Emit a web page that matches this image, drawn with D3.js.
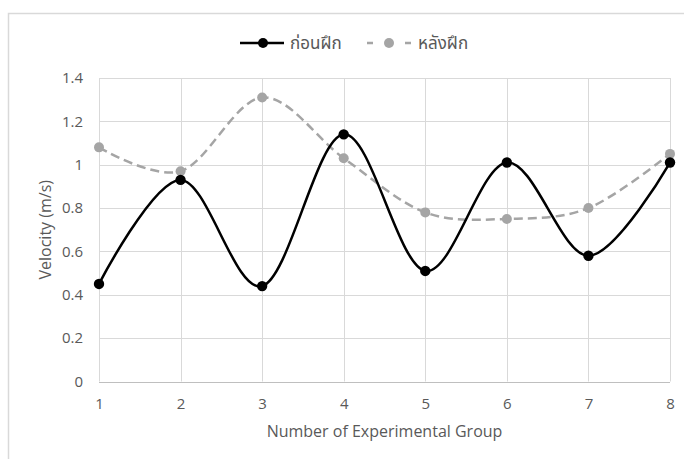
<!DOCTYPE html>
<html><head><meta charset="utf-8">
<script src="https://cdn.jsdelivr.net/npm/d3@7"></script>
<style>body{margin:0;background:#fff}svg{display:block}</style>
</head><body>
<svg id="c" width="684" height="459"></svg>
<script>
const groups = [1,2,3,4,5,6,7,8];
const before = [0.45,0.93,0.44,1.14,0.51,1.01,0.58,1.01];
const after  = [1.08,0.97,1.31,1.03,0.78,0.75,0.80,1.05];
const yTicks = [0,0.2,0.4,0.6,0.8,1,1.2,1.4];
const seriesNames = ["ก่อนฝึก","หลังฝึก"];

const svg = d3.select("#c");
const font = "'Open Sans','Noto Sans','Noto Sans Thai',sans-serif";
const txt = "#595959";

svg.append("rect").attr("x",8.5).attr("y",13.5).attr("width",700).attr("height",470)
  .attr("fill","#fff").attr("stroke","#d9d9d9").attr("stroke-width",1.5);

const x = d3.scaleLinear().domain([1,8]).range([99,670]);
const y = d3.scaleLinear().domain([0,1.4]).range([381.5,78]);

const g = svg.append("g");
g.selectAll(".hg").data(yTicks.filter(d=>d>0)).join("line")
  .attr("x1",x(1)).attr("x2",x(8)).attr("y1",d=>Math.round(y(d))+0.5).attr("y2",d=>Math.round(y(d))+0.5)
  .attr("stroke","#d9d9d9").attr("stroke-width",1);
g.selectAll(".vg").data(groups).join("line")
  .attr("x1",d=>Math.round(x(d))+0.5).attr("x2",d=>Math.round(x(d))+0.5).attr("y1",y(1.4)).attr("y2",y(0))
  .attr("stroke","#d9d9d9").attr("stroke-width",1);
g.append("line").attr("x1",x(1)).attr("x2",x(8)).attr("y1",Math.round(y(0))+0.5).attr("y2",Math.round(y(0))+0.5)
  .attr("stroke","#bfbfbf").attr("stroke-width",1.2);

const yAxis = svg.append("g").attr("transform",`translate(${x(1)},0)`)
  .call(d3.axisLeft(y).tickValues(yTicks).tickSize(0).tickPadding(16).tickFormat(d=>String(d)));
yAxis.select(".domain").remove();
yAxis.selectAll("text").attr("fill",txt).style("font-family",font).style("font-size","15px");

const xAxis = svg.append("g").attr("transform",`translate(0,${y(0)})`)
  .call(d3.axisBottom(x).tickValues(groups).tickSize(0).tickPadding(17).tickFormat(d3.format("d")));
xAxis.select(".domain").remove();
xAxis.selectAll("text").attr("fill",txt).style("font-family",font).style("font-size","15px");

svg.append("text").attr("x",(x(1)+x(8))/2).attr("y",437).attr("text-anchor","middle")
  .attr("fill",txt).style("font-family",font).style("font-size","16px").text("Number of Experimental Group");
svg.append("text").attr("transform",`translate(51,${(y(0)+y(1.4))/2}) rotate(-90)`).attr("text-anchor","middle")
  .attr("fill",txt).style("font-family",font).style("font-size","16px").text("Velocity (m/s)");

const line = d3.line().x((d,i)=>x(groups[i])).y(d=>y(d)).curve(d3.curveCatmullRom.alpha(0));

svg.append("path").datum(after).attr("d",line).attr("fill","none")
  .attr("stroke","#a5a5a5").attr("stroke-width",2.5).attr("stroke-dasharray","9,5");
svg.selectAll(".pa").data(after).join("circle").attr("cx",(d,i)=>x(groups[i])).attr("cy",d=>y(d))
  .attr("r",5).attr("fill","#a5a5a5");
svg.append("path").datum(before).attr("d",line).attr("fill","none")
  .attr("stroke","#000").attr("stroke-width",2.5);
svg.selectAll(".pb").data(before).join("circle").attr("cx",(d,i)=>x(groups[i])).attr("cy",d=>y(d))
  .attr("r",5.2).attr("fill","#000");

const ly = 43;
const lg = svg.append("g");
lg.append("line").attr("x1",240).attr("x2",284).attr("y1",ly).attr("y2",ly).attr("stroke","#000").attr("stroke-width",2.5);
lg.append("circle").attr("cx",263).attr("cy",ly).attr("r",5).attr("fill","#000");
lg.append("text").attr("x",290).attr("y",ly+6).attr("fill",txt).style("font-family",font).style("font-size","17px").text(seriesNames[0]);
lg.append("line").attr("x1",367).attr("x2",412).attr("y1",ly).attr("y2",ly).attr("stroke","#a5a5a5").attr("stroke-width",2.5).attr("stroke-dasharray","6,32");
lg.append("circle").attr("cx",389).attr("cy",ly).attr("r",5).attr("fill","#a5a5a5");
lg.append("text").attr("x",418).attr("y",ly+6).attr("fill",txt).style("font-family",font).style("font-size","17px").text(seriesNames[1]);
</script>
</body></html>
